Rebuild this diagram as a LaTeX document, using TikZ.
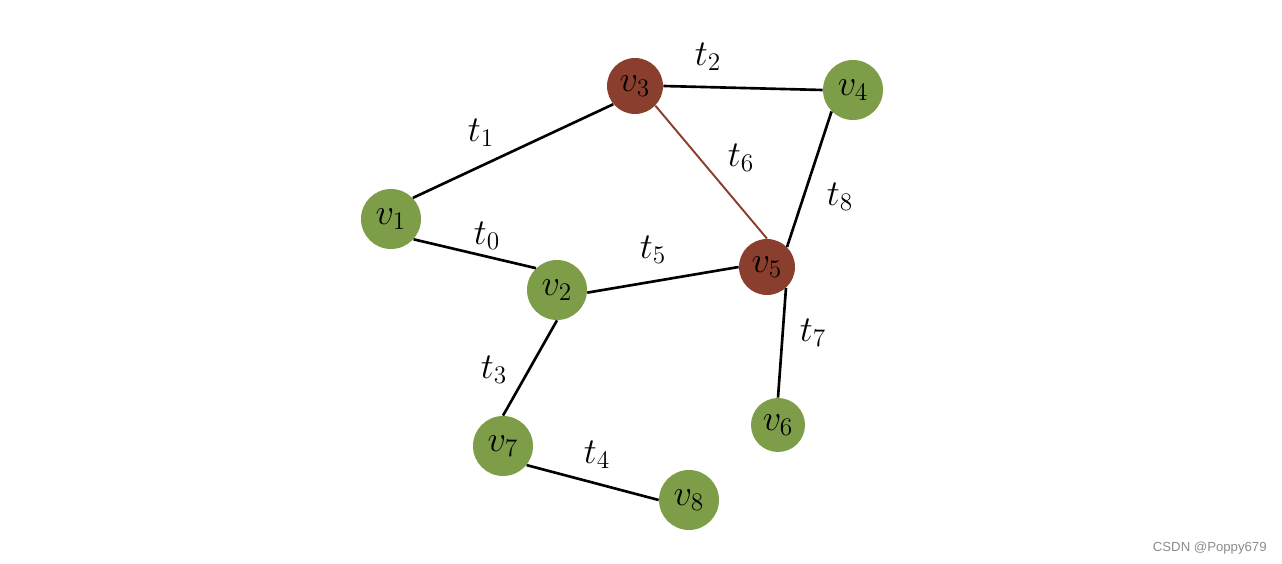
\documentclass[tikz,border=0pt]{standalone}
\usepackage{fontspec}
\newfontfamily\wmfont{Liberation Sans}
\definecolor{vgreen}{RGB}{125,157,72}
\definecolor{vbrown}{RGB}{138,62,46}
\begin{document}
\begin{tikzpicture}[x=0.02cm,y=-0.02cm,
  vert/.style={circle,fill=vgreen,minimum size=1.2cm,inner sep=0pt,font=\fontsize{21}{24}\selectfont},
  hot/.style={vert,fill=vbrown,minimum size=1.12cm},
  edge/.style={line width=1.5pt,black},
  hotedge/.style={line width=1.1pt,vbrown},
  lab/.style={font=\fontsize{21}{24}\selectfont,inner sep=0pt}]
\useasboundingbox (0,0) rectangle (1282,564);
\node[vert] (v1) at (391,219) {$v_1$};
\node[vert] (v2) at (557,290) {$v_2$};
\node[hot]  (v3) at (635,86) {$v_3$};
\node[vert] (v4) at (853,90) {$v_4$};
\node[hot]  (v5) at (767,267) {$v_5$};
\node[vert,minimum size=1.08cm] (v6) at (778,425) {$v_6$};
\node[vert] (v7) at (503,446) {$v_7$};
\node[vert] (v8) at (689,500) {$v_8$};
\draw[edge] (v1.44) -- (v3.220);
\draw[edge] (v1.318) -- (v2.134);
\draw[edge] (v3.east) -- (v4.west);
\draw[hotedge] (v3.316) -- (v5.90);
\draw[edge] (v4.225) -- (v5.45);
\draw[edge] (v2.355) -- (v5.180);
\draw[edge] (v5.312) -- (v6.90);
\draw[edge] (v2.270) -- (v7.90);
\draw[edge] (v7.321) -- (v8.180);
\node[lab] (t1) at (481,133) {$t_1$};
\node[lab] (t0) at (487,236) {$t_0$};
\node[lab] (t2) at (708,57) {$t_2$};
\node[lab] (t6) at (741,158) {$t_6$};
\node[lab] (t8) at (840,197) {$t_8$};
\node[lab] (t5) at (653,250) {$t_5$};
\node[lab] (t7) at (813,333) {$t_7$};
\node[lab] (t3) at (494,370) {$t_3$};
\node[lab] (t4) at (597,455) {$t_4$};
\node[anchor=east,text=black!45,font=\wmfont\fontsize{7.5}{9}\selectfont,inner sep=0pt] (wm) at (1267,548) {CSDN @Poppy679};
\end{tikzpicture}
\end{document}
